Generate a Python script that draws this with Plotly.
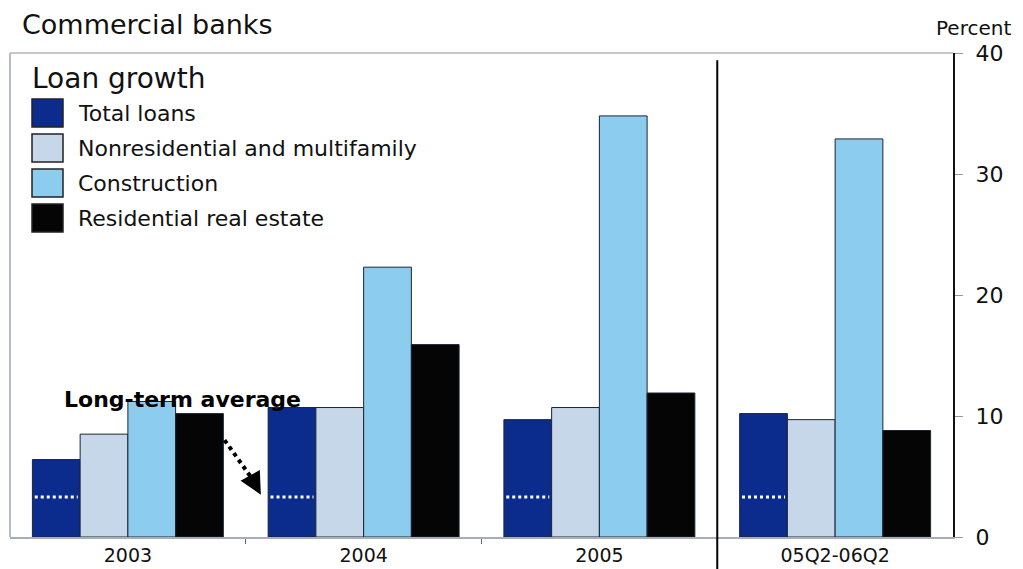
import plotly.graph_objects as go

categories = ["2003", "2004", "2005", "05Q2-06Q2"]
series_names = ["Total loans", "Nonresidential and multifamily", "Construction", "Residential real estate"]
total_loans = [6.4, 10.7, 9.7, 10.2]
nonresidential = [8.5, 10.7, 10.7, 9.7]
construction = [11.2, 22.3, 34.8, 32.9]
residential = [10.2, 15.9, 11.9, 8.8]
long_term_average = [3.3, 3.3, 3.3, 3.3]
y_ticks = [0, 10, 20, 30, 40]

colors = ["#0b2c8c", "#c6d7ea", "#8cccee", "#050505"]
font_family = "DejaVu Sans, Verdana, sans-serif"

# plot-area geometry in pixels (for layout items placed in paper space)
L, R, T, B = 10, 953, 53, 537


def px(xp):
    return (xp - L) / (R - L)


def py(yp):
    return (B - yp) / (B - T)


BARGAP = 0.19
xpos = list(range(len(categories)))
fig = go.Figure()
for name, vals, col in zip(series_names, [total_loans, nonresidential, construction, residential], colors):
    fig.add_trace(go.Bar(x=xpos, y=vals, name=name, marker=dict(color=col, line=dict(color="#1b2633", width=1)),
                         showlegend=False))

# long-term average dotted line across the total-loans bar
bw = (1 - BARGAP) / 4
lx, ly = [], []
for i, v in zip(xpos, long_term_average):
    left = i - (1 - BARGAP) / 2
    lx += [left + 0.01, left + bw - 0.01, None]
    ly += [v, v, None]
fig.add_trace(go.Scatter(x=lx, y=ly, mode="lines", line=dict(color="white", width=3, dash="dot"),
                         showlegend=False, hoverinfo="skip"))

shapes = []
shapes.append(dict(type="line", xref="paper", yref="paper", x0=0, x1=1, y0=1, y1=1, line=dict(color="#c8c8c8", width=2)))
shapes.append(dict(type="line", xref="paper", yref="paper", x0=0, x1=0, y0=0, y1=1, line=dict(color="#b8bcc4", width=2)))
shapes.append(dict(type="line", xref="x", yref="paper", x0=2.5, x1=2.5, y0=-0.08, y1=0.985, line=dict(color="black", width=2)))
shapes.append(dict(type="line", xref="x", yref="y", x0=0.41, y0=8.0, x1=0.535, y1=4.6, line=dict(color="black", width=4, dash="dot")))

annotations = []
annotations.append(dict(x=0.564, y=3.5, xref="x", yref="y", ax=0.53, ay=4.7, axref="x", ayref="y", text="",
                        showarrow=True, arrowhead=2, arrowsize=1.1, arrowwidth=4, arrowcolor="black"))
annotations.append(dict(x=px(182), y=py(399), xref="paper", yref="paper", xanchor="center", yanchor="middle",
                        text="<b>Long-term average</b>", showarrow=False,
                        font=dict(size=22, color="black", family=font_family)))
annotations.append(dict(x=px(20), y=py(25), xref="paper", yref="paper", yanchor="middle", xanchor="left",
                        text="Commercial banks", showarrow=False, font=dict(size=27, color="#111", family=font_family)))
annotations.append(dict(x=px(974), y=py(28), xref="paper", yref="paper", xanchor="center", yanchor="middle",
                        text="Percent", showarrow=False, font=dict(size=20, color="#111", family=font_family)))
annotations.append(dict(x=px(30), y=py(78), xref="paper", yref="paper", xanchor="left", yanchor="middle",
                        text="Loan growth", showarrow=False, font=dict(size=28, color="#111", family=font_family)))
for k, (name, col) in enumerate(zip(series_names, colors)):
    yc = 113 + 35 * k
    shapes.append(dict(type="rect", xref="paper", yref="paper",
                       x0=px(32), x1=px(63), y0=py(yc + 14), y1=py(yc - 14),
                       fillcolor=col, line=dict(color="#222", width=1.5)))
    annotations.append(dict(x=px(76), y=py(yc), xref="paper", yref="paper", xanchor="left",
                            yanchor="middle", text=name, showarrow=False,
                            font=dict(size=22, color="#111", family=font_family)))

fig.update_layout(
    width=1023, height=569, margin=dict(l=L, r=1023 - R, t=T, b=569 - B),
    paper_bgcolor="white", plot_bgcolor="white", barmode="group", bargap=BARGAP, bargroupgap=0,
    shapes=shapes, annotations=annotations, font=dict(family=font_family),
    xaxis=dict(range=[-0.5, 3.5], tickvals=xpos, ticktext=categories, showgrid=False, zeroline=False,
               showline=True, linecolor="#a8aeb8", linewidth=2, ticks="", automargin=False,
               tickfont=dict(size=19, color="#111"),
               minor=dict(tickvals=[0.5, 1.5], ticks="outside", ticklen=5, tickcolor="#666")),
    yaxis=dict(side="right", range=[0, 40], tickvals=y_ticks, showgrid=False, zeroline=False, automargin=False,
               showline=True, linecolor="#111", linewidth=2, ticks="outside", ticklen=8, tickcolor="#999",
               ticklabelstandoff=8, tickfont=dict(size=22, color="#111")),
)

fig.write_html("out.html")
